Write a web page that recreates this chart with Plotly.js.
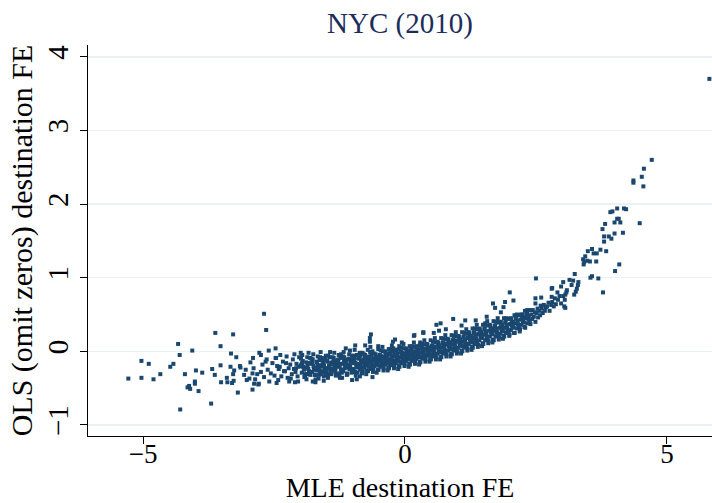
<!DOCTYPE html>
<html>
<head>
<meta charset="utf-8">
<script src="https://cdn.plot.ly/plotly-3.0.1.min.js"></script>
<style>html,body{margin:0;padding:0;background:#fff;}#chart{width:712px;height:503px;}</style>
</head>
<body>
<div id="chart"></div>
<script>
// Dense central band
const bandMLE = [
-2.49,-2.44,-2.47,-2.42,-2.41,
-2.39,-2.36,-2.33,-2.38,-2.31,
-2.29,-2.27,-2.24,-2.22,-2.26,-2.21,
-2.19,-2.16,-2.14,-2.12,-2.18,-2.11,
-2.09,-2.07,-2.05,-2.03,-2.02,-2.08,-2.04,
-1.99,-1.97,-1.95,-1.93,-1.92,-1.96,-1.98,-1.91,
-1.89,-1.87,-1.85,-1.83,-1.81,-1.88,-1.86,-1.84,-1.82,
-1.79,-1.77,-1.76,-1.74,-1.72,-1.78,-1.75,-1.73,-1.71,
-1.69,-1.68,-1.66,-1.64,-1.62,-1.67,-1.65,-1.63,-1.61,
-1.59,-1.58,-1.56,-1.55,-1.53,-1.51,-1.57,-1.54,-1.52,-1.60,
-1.49,-1.48,-1.46,-1.44,-1.42,-1.41,-1.47,-1.45,-1.43,-1.50,
-1.39,-1.37,-1.36,-1.34,-1.32,-1.31,-1.38,-1.35,-1.33,-1.40,
-1.29,-1.27,-1.26,-1.24,-1.22,-1.21,-1.28,-1.25,-1.23,-1.30,
-1.19,-1.18,-1.16,-1.14,-1.12,-1.11,-1.17,-1.15,-1.13,-1.20,
-1.09,-1.07,-1.06,-1.04,-1.02,-1.01,-1.08,-1.05,-1.03,-1.10,
-0.99,-0.98,-0.96,-0.95,-0.93,-0.92,-0.91,-0.97,-0.94,-1.00,-0.96,
-0.89,-0.88,-0.86,-0.85,-0.83,-0.82,-0.81,-0.87,-0.84,-0.90,-0.86,
-0.79,-0.78,-0.76,-0.75,-0.73,-0.72,-0.71,-0.77,-0.74,-0.80,-0.76,
-0.69,-0.68,-0.66,-0.65,-0.63,-0.62,-0.61,-0.67,-0.64,-0.70,-0.66,
-0.59,-0.58,-0.56,-0.55,-0.53,-0.52,-0.51,-0.57,-0.54,-0.60,-0.56,
-0.49,-0.48,-0.47,-0.45,-0.44,-0.42,-0.41,-0.46,-0.43,-0.50,-0.45,-0.42,
-0.39,-0.38,-0.37,-0.35,-0.34,-0.32,-0.31,-0.36,-0.33,-0.40,-0.35,-0.32,
-0.29,-0.28,-0.27,-0.25,-0.24,-0.22,-0.21,-0.26,-0.23,-0.30,-0.25,-0.22,
-0.19,-0.18,-0.17,-0.15,-0.14,-0.12,-0.11,-0.16,-0.13,-0.20,-0.15,-0.12,
-0.09,-0.08,-0.07,-0.05,-0.04,-0.02,-0.01,-0.06,-0.03,-0.10,-0.05,-0.02,
0.01,0.02,0.03,0.05,0.06,0.08,0.09,0.04,0.07,0.00,0.05,0.08,
0.11,0.12,0.13,0.15,0.16,0.18,0.19,0.14,0.17,0.10,0.15,0.18,
0.21,0.22,0.23,0.25,0.26,0.28,0.29,0.24,0.27,0.20,0.25,0.28,
0.31,0.32,0.33,0.35,0.36,0.38,0.39,0.34,0.37,0.30,0.35,0.38,
0.41,0.42,0.43,0.45,0.46,0.48,0.49,0.44,0.47,0.40,0.46,
0.51,0.52,0.53,0.55,0.56,0.58,0.59,0.54,0.57,0.50,0.56,
0.61,0.62,0.63,0.65,0.66,0.68,0.69,0.64,0.67,0.60,0.66,
0.71,0.72,0.73,0.75,0.76,0.78,0.79,0.74,0.77,0.70,0.76,
0.81,0.82,0.83,0.85,0.86,0.88,0.89,0.84,0.87,0.80,0.86,
0.91,0.92,0.93,0.95,0.96,0.98,0.99,0.94,0.97,0.90,0.96,
1.01,1.02,1.03,1.05,1.06,1.08,1.09,1.04,1.07,1.00,
1.11,1.12,1.13,1.15,1.16,1.18,1.19,1.14,1.17,1.10,
1.21,1.22,1.23,1.25,1.26,1.28,1.29,1.24,1.27,1.20,
1.31,1.32,1.33,1.35,1.36,1.38,1.39,1.34,1.37,1.30,
1.41,1.42,1.43,1.45,1.46,1.48,1.49,1.44,1.47,1.40,
1.51,1.52,1.53,1.55,1.56,1.58,1.59,1.54,1.57,
1.61,1.62,1.63,1.65,1.66,1.68,1.69,1.64,1.67,
1.71,1.72,1.73,1.75,1.76,1.78,1.79,1.74,1.77,
1.81,1.82,1.83,1.85,1.86,1.88,1.89,1.84,1.87,
1.91,1.92,1.93,1.95,1.96,1.98,1.99,1.94,
2.01,2.02,2.03,2.05,2.06,2.08,2.09,2.04,
2.11,2.12,2.14,2.15,2.17,2.18,2.19,
2.21,2.22,2.24,2.25,2.27,2.28,2.29,
2.31,2.33,2.34,2.36,2.38,2.39,
2.41,2.43,2.44,2.46,2.48,2.49,
2.51,2.53,2.54,2.56,2.58,2.59,
2.61,2.63,2.65,2.67,2.69,
2.71,2.74,2.76,2.79,
2.81,2.84,2.86,2.88,
2.92,2.95,2.98,
3.02,3.05,3.08
];
const bandOLS = [
-0.33,-0.20,-0.09,-0.39,-0.24,
-0.21,-0.34,-0.14,-0.05,-0.27,
-0.27,-0.16,-0.36,-0.23,-0.07,-0.41,
-0.18,-0.31,-0.11,-0.24,-0.37,-0.04,
-0.28,-0.17,-0.34,-0.21,-0.08,-0.23,-0.41,
-0.20,-0.29,-0.13,-0.24,-0.35,-0.05,-0.18,-0.31,
-0.22,-0.31,-0.16,-0.27,-0.09,-0.38,-0.20,-0.02,-0.29,
-0.17,-0.28,-0.11,-0.24,-0.32,-0.15,-0.04,-0.22,-0.39,
-0.26,-0.15,-0.19,-0.32,-0.08,-0.23,-0.37,-0.12,-0.01,
-0.19,-0.27,-0.12,-0.34,-0.23,-0.06,-0.16,-0.29,-0.10,-0.21,
-0.23,-0.14,-0.31,-0.08,-0.25,-0.16,-0.36,-0.19,-0.01,-0.27,
-0.15,-0.26,-0.09,-0.20,-0.33,-0.13,-0.24,-0.02,-0.28,-0.18,
-0.21,-0.11,-0.30,-0.17,-0.04,-0.25,-0.15,-0.34,-0.09,-0.19,
-0.17,-0.27,-0.08,-0.21,-0.12,-0.32,-0.01,-0.23,-0.14,-0.36,
-0.18,-0.10,-0.24,-0.14,-0.29,-0.06,-0.20,0.01,-0.12,-0.31,
-0.16,-0.24,-0.09,-0.28,-0.18,-0.05,-0.22,-0.13,-0.33,-0.11,0.02,
-0.19,-0.10,-0.25,-0.06,-0.15,-0.30,-0.02,-0.21,-0.12,-0.17,-0.34,
-0.11,-0.22,-0.05,-0.16,-0.26,-0.09,0.02,-0.18,-0.31,-0.14,-0.07,
-0.15,-0.07,-0.24,-0.11,-0.19,0.00,-0.28,-0.13,-0.05,-0.21,0.06,
-0.12,-0.20,-0.04,-0.16,-0.08,-0.25,0.03,-0.14,-0.29,-0.10,-0.18,
-0.13,-0.05,-0.21,-0.09,-0.17,0.00,-0.26,-0.11,0.06,-0.19,-0.07,-0.15,
-0.10,-0.18,-0.01,-0.14,-0.05,-0.22,0.03,-0.12,-0.26,-0.07,-0.16,-0.03,
-0.11,-0.02,-0.19,-0.06,-0.15,0.04,-0.23,-0.09,0.00,-0.17,0.08,-0.13,
-0.07,-0.16,0.01,-0.12,-0.03,-0.20,0.07,-0.10,-0.24,-0.05,-0.14,0.03,
-0.08,0.00,-0.16,-0.04,-0.12,0.04,-0.20,-0.06,0.10,-0.14,-0.02,-0.10,
-0.05,-0.13,0.03,-0.09,-0.01,-0.17,0.07,-0.07,-0.21,-0.03,-0.11,0.01,
-0.05,0.02,-0.13,-0.02,-0.09,0.06,-0.17,-0.03,0.12,-0.11,0.00,-0.07,
-0.02,-0.10,0.06,-0.06,0.02,-0.14,0.12,-0.04,-0.18,0.00,-0.08,0.08,
-0.02,0.05,-0.10,0.01,-0.06,0.09,-0.14,0.00,0.15,-0.08,0.03,-0.04,
0.02,-0.06,0.09,-0.02,0.05,-0.10,0.15,0.00,-0.14,0.03,-0.04,
0.01,0.08,-0.07,0.04,-0.03,0.12,-0.11,0.03,0.18,-0.05,0.06,
0.05,-0.03,0.12,0.01,0.08,-0.07,0.18,0.03,-0.11,0.06,-0.01,
0.05,0.12,-0.03,0.08,0.01,0.16,-0.07,0.07,0.22,-0.01,0.10,
0.09,0.01,0.16,0.05,0.12,-0.03,0.22,0.07,-0.07,0.10,0.03,
0.09,0.16,0.01,0.12,0.05,0.20,-0.03,0.11,0.26,0.03,0.14,
0.13,0.05,0.20,0.09,0.16,0.01,0.26,0.11,-0.03,0.14,
0.13,0.20,0.05,0.16,0.09,0.24,0.01,0.15,0.30,0.07,
0.18,0.10,0.25,0.14,0.21,0.06,0.31,0.16,0.02,0.19,
0.18,0.26,0.10,0.22,0.14,0.30,0.06,0.20,0.36,0.12,
0.23,0.15,0.30,0.19,0.26,0.11,0.36,0.21,0.07,0.24,
0.23,0.31,0.15,0.27,0.19,0.35,0.11,0.25,0.41,
0.28,0.20,0.35,0.24,0.31,0.16,0.41,0.26,0.12,
0.28,0.35,0.20,0.31,0.24,0.39,0.16,0.30,0.45,
0.32,0.24,0.40,0.28,0.36,0.21,0.45,0.30,0.17,
0.32,0.40,0.25,0.36,0.28,0.44,0.21,0.34,
0.37,0.29,0.44,0.33,0.40,0.25,0.49,0.35,
0.38,0.45,0.31,0.42,0.35,0.49,0.27,
0.43,0.36,0.50,0.40,0.46,0.33,0.55,
0.45,0.51,0.38,0.48,0.42,0.56,
0.50,0.44,0.56,0.47,0.53,0.40,
0.52,0.58,0.46,0.55,0.49,0.62,
0.58,0.52,0.63,0.55,0.60,
0.61,0.66,0.55,0.63,
0.67,0.61,0.72,0.64,
0.70,0.75,0.65,
0.75,0.70,0.80
];
// Extra points filling the densest core of the band
const coreMLE = [
-1.925,-1.965,-1.905,-1.985,-1.945,
-1.885,-1.845,-1.805,-1.865,-1.825,
-1.725,-1.765,-1.705,-1.785,-1.745,
-1.685,-1.645,-1.605,-1.665,-1.625,
-1.525,-1.565,-1.505,-1.585,-1.545,
-1.485,-1.445,-1.405,-1.465,-1.425,
-1.325,-1.365,-1.305,-1.385,-1.345,
-1.285,-1.245,-1.205,-1.265,-1.225,
-1.125,-1.165,-1.105,-1.185,-1.145,
-1.085,-1.045,-1.005,-1.065,-1.025,
-0.925,-0.965,-0.905,-0.985,-0.945,
-0.885,-0.845,-0.805,-0.865,-0.825,
-0.725,-0.765,-0.705,-0.785,-0.745,
-0.685,-0.645,-0.605,-0.665,-0.625,
-0.525,-0.565,-0.505,-0.585,-0.545,
-0.485,-0.445,-0.405,-0.465,-0.425,
-0.325,-0.365,-0.305,-0.385,-0.345,
-0.285,-0.245,-0.205,-0.265,-0.225,
-0.125,-0.165,-0.105,-0.185,-0.145,
-0.085,-0.045,-0.005,-0.065,-0.025,
0.075,0.035,0.095,0.015,0.055,
0.115,0.155,0.195,0.135,0.175,
0.275,0.235,0.295,0.215,0.255,
0.315,0.355,0.395,0.335,0.375,
0.475,0.435,0.495,0.415,0.455,
0.515,0.555,0.595,0.535,0.575,
0.675,0.635,0.695,0.615,0.655,
0.715,0.755,0.795,0.735,0.775,
0.875,0.835,0.895,0.815,0.855,
0.915,0.955,0.995,0.935,0.975,
1.075,1.035,1.095,1.015,1.055,
1.115,1.155,1.195,1.135,1.175,
1.275,1.235,1.295,1.215,1.255,
1.315,1.355,1.395,1.335,1.375,
1.475,1.435,1.495,1.415,1.455,
1.515,1.555,1.595,1.535,1.575,
1.675,1.635,1.695,1.615,1.655,
1.715,1.755,1.795,1.735,1.775,
1.875,1.835,1.895,1.815,1.855,
1.915,1.955,1.995,1.935,1.975,
2.075,2.035,2.095,2.015,2.055,
2.115,2.155,2.195,2.135,2.175,
2.275,2.235,2.295,2.215,2.255,
2.315,2.355,2.395,2.335,2.375
];
const coreOLS = [
-0.25,-0.16,-0.34,-0.10,-0.21,
-0.15,-0.24,-0.32,-0.08,-0.28,
-0.25,-0.16,-0.33,-0.10,-0.20,
-0.14,-0.23,-0.31,-0.07,-0.27,
-0.24,-0.15,-0.32,-0.09,-0.19,
-0.13,-0.22,-0.31,-0.06,-0.26,
-0.23,-0.14,-0.31,-0.08,-0.18,
-0.12,-0.20,-0.29,-0.05,-0.25,
-0.22,-0.13,-0.30,-0.07,-0.17,
-0.11,-0.19,-0.28,-0.04,-0.24,
-0.21,-0.12,-0.29,-0.06,-0.16,
-0.09,-0.18,-0.27,-0.02,-0.22,
-0.19,-0.10,-0.27,-0.04,-0.14,
-0.08,-0.16,-0.25,-0.01,-0.21,
-0.17,-0.09,-0.25,-0.03,-0.13,
-0.06,-0.14,-0.23,0.01,-0.19,
-0.14,-0.06,-0.23,0.00,-0.10,
-0.04,-0.12,-0.20,0.03,-0.16,
-0.12,-0.04,-0.21,0.02,-0.08,
-0.01,-0.09,-0.17,0.05,-0.13,
-0.10,-0.02,-0.18,0.04,-0.06,
0.01,-0.07,-0.14,0.07,-0.11,
-0.07,0.01,-0.15,0.07,-0.03,
0.04,-0.04,-0.11,0.10,-0.08,
-0.03,0.05,-0.11,0.10,0.01,
0.07,-0.01,-0.08,0.13,-0.05,
0.00,0.08,-0.08,0.13,0.04,
0.11,0.03,-0.04,0.17,-0.01,
0.04,0.12,-0.04,0.17,0.08,
0.15,0.07,0.00,0.21,0.03,
0.08,0.16,0.00,0.21,0.12,
0.19,0.11,0.04,0.25,0.07,
0.13,0.21,0.05,0.26,0.17,
0.25,0.17,0.09,0.31,0.13,
0.18,0.26,0.10,0.31,0.22,
0.30,0.22,0.14,0.36,0.18,
0.23,0.31,0.15,0.36,0.27,
0.34,0.26,0.19,0.40,0.22,
0.27,0.35,0.20,0.40,0.31,
0.39,0.31,0.23,0.45,0.27,
0.32,0.39,0.25,0.45,0.36,
0.44,0.37,0.30,0.50,0.34,
0.39,0.46,0.32,0.50,0.42,
0.50,0.44,0.37,0.56,0.41
];
// Sparse left tail
const leftMLE = [-5.28,-5.03,-5.03,-4.89,-4.80,-4.67,-4.48,-4.42,-4.33,-4.30,-4.29,-4.20,-4.15,-4.12,-4.10,-4.06,-4.01,-4.01,-3.99,-3.94,-3.87,-3.70,-3.68,-3.63,-3.62,-3.52,-3.52,-3.51,-3.40,-3.39,-3.33,-3.32,-3.30,-3.28,-3.28,-3.27,-3.26,-3.22,-3.19,-3.15,-3.14,-3.07,-3.04,-3.02,-2.97,-2.95,-2.91,-2.91,-2.90,-2.88,-2.89,-2.86,-2.82,-2.79,-2.78,-2.75,-2.69,-2.65,-2.75,-2.72,-2.69,-2.66,-2.64,-2.62,-2.60,-2.59,-2.80,-2.56,-2.53];
const leftOLS = [-0.37,-0.13,-0.36,-0.17,-0.38,-0.31,-0.21,-0.17,0.10,-0.05,-0.79,-0.31,-0.49,-0.47,-0.51,0.01,-0.41,-0.44,-0.26,-0.54,-0.29,-0.71,-0.24,-0.32,0.25,0.07,-0.19,-0.42,-0.36,-0.42,-0.21,-0.03,-0.43,0.23,-0.31,-0.40,-0.26,-0.08,-0.56,-0.20,-0.22,-0.32,-0.25,-0.39,-0.37,-0.15,-0.30,-0.52,-0.09,-0.44,-0.23,-0.38,-0.31,-0.44,-0.02,-0.05,0.51,0.29,-0.28,-0.18,-0.35,-0.14,-0.11,-0.25,0.01,-0.41,-0.45,-0.30,-0.16];
// Scattered points around the band
const midMLE = [-2.47,-2.46,-2.45,-2.10,-1.99,-1.76,-1.71,-1.55,-1.24,-1.01,-0.92,-0.62,-1.13,-0.95,-0.76,-0.67,-0.67,-0.65,-0.51,-0.23,-0.19,-0.06,0.17,0.18,0.35,0.35,0.55,0.60,0.65,0.68,0.78,0.92,1.08,1.15,1.35,1.53,1.56,1.68,1.72,1.83,1.88,1.91,2.00,2.07,2.13,2.49,2.49,2.60,2.50,2.80,2.81];
const midOLS = [0.04,-0.09,-0.43,-0.42,-0.02,-0.41,-0.42,-0.40,-0.36,-0.39,-0.38,-0.35,0.04,0.08,0.08,0.13,0.18,0.23,0.07,0.13,0.16,0.12,0.21,0.22,0.25,0.26,0.25,0.36,0.28,0.38,0.30,0.44,0.35,0.42,0.42,0.38,0.47,0.65,0.59,0.53,0.60,0.67,0.80,0.69,0.49,0.65,0.72,0.73,0.99,0.74,0.86];
// Steep right tail
const rightMLE = [2.80,2.91,2.98,3.02,3.04,3.06,3.06,3.09,3.14,3.18,3.21,3.23,3.24,3.26,3.28,3.30,3.31,3.40,3.41,3.42,3.44,3.48,3.49,3.53,3.54,3.57,3.57,3.60,3.65,3.66,3.69,3.73,3.77,3.78,3.80,3.80,3.82,3.84,3.89,3.92,3.94,3.96,4.00,4.00,4.01,4.05,4.05,4.08,4.09,4.11,4.16,4.18,4.22,4.36,4.36,4.48,4.52,4.55,4.56,4.71,5.81];
const rightOLS = [0.85,0.80,0.88,0.94,0.61,0.59,0.77,0.83,0.97,0.90,0.96,0.77,1.05,0.81,0.85,0.90,0.94,1.25,1.18,1.21,1.29,1.23,1.36,1.22,1.00,1.02,1.39,1.33,1.22,1.33,0.99,1.38,1.66,0.80,1.49,1.56,1.73,1.36,1.56,1.89,1.53,1.90,1.60,1.75,1.09,1.80,1.94,1.80,1.18,1.75,1.61,1.94,1.93,2.29,2.32,1.74,2.37,2.24,2.48,2.60,3.70];

const xTickVals = [-5, 0, 5];
const xTickText = ['\u22125', '0', '5'];
const yTickVals = [-1, 0, 1, 2, 3, 4];
const yTickText = ['\u22121', '0', '1', '2', '3', '4'];

const xs = bandMLE.concat(coreMLE, leftMLE, midMLE, rightMLE);
const ys = bandOLS.concat(coreOLS, leftOLS, midOLS, rightOLS);

const serif = 'Liberation Serif';

Plotly.newPlot('chart', [{
  type: 'scatter', mode: 'markers',
  x: xs, y: ys,
  marker: {symbol: 'square', size: 4, color: '#1a476f', line: {width: 0}},
  hoverinfo: 'skip'
}], {
  width: 712, height: 503,
  margin: {l: 88, r: 0, t: 45, b: 67, pad: 0},
  paper_bgcolor: '#ffffff', plot_bgcolor: '#ffffff',
  showlegend: false,
  font: {family: serif, color: '#000000'},
  title: {
    text: 'NYC (2010)',
    font: {family: serif, size: 29, color: '#1c2d5a'},
    x: 0.5, xref: 'paper', y: 0.955, yref: 'container', yanchor: 'middle'
  },
  xaxis: {
    range: [-6.05, 5.86],
    tickmode: 'array', tickvals: xTickVals, ticktext: xTickText,
    ticks: 'outside', ticklen: 7, tickwidth: 1, tickcolor: '#000',
    ticklabelstandoff: -13,
    showline: true, linecolor: '#000', linewidth: 1,
    showgrid: false, zeroline: false,
    tickfont: {family: serif, size: 27, color: '#000'},
    title: {text: 'MLE destination FE', font: {family: serif, size: 28, color: '#000'}, standoff: 18},
    automargin: false
  },
  yaxis: {
    range: [-1.15, 4.16],
    tickmode: 'array', tickvals: yTickVals, ticktext: yTickText,
    ticks: 'outside', ticklen: 7, tickwidth: 1, tickcolor: '#000',
    tickangle: -90,
    showline: true, linecolor: '#000', linewidth: 1,
    showgrid: true, gridcolor: '#e9f1f2', gridwidth: 1.5,
    zeroline: false,
    tickfont: {family: serif, size: 29, color: '#000'},
    title: {text: 'OLS (omit zeros) destination FE', font: {family: serif, size: 30, color: '#000'}, standoff: 0},
    automargin: false
  }
}, {displayModeBar: false, staticPlot: true});
</script>
</body>
</html>
